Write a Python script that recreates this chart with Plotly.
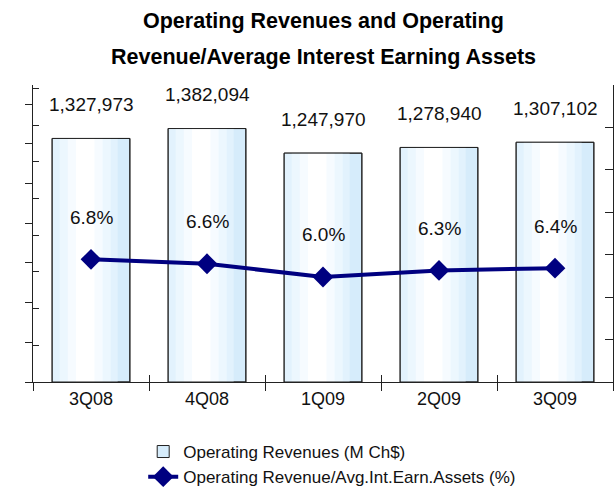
import plotly.graph_objects as go

quarters = ["3Q08", "4Q08", "1Q09", "2Q09", "3Q09"]
revenues = [1327973, 1382094, 1247970, 1278940, 1307102]
ratio = [6.8, 6.6, 6.0, 6.3, 6.4]
revenue_labels = ["1,327,973", "1,382,094", "1,247,970", "1,278,940", "1,307,102"]
ratio_labels = ["6.8%", "6.6%", "6.0%", "6.3%", "6.4%"]

font_name = "Liberation Sans, Arial"

fig = go.Figure()

# bars, with a few stacked layers to fake the horizontal gradient
fig.add_trace(go.Bar(x=quarters, y=revenues, name="Operating Revenues (M Ch$)",
                     width=0.67, marker=dict(color="#d6ecfb", line=dict(color="#222", width=1))))
for w, c in [(0.56, "#e2f2fd"), (0.44, "#ecf7fe"), (0.30, "#f6fbff"), (0.16, "#ffffff")]:
    fig.add_trace(go.Bar(x=quarters, y=revenues, width=w, offset=-w / 2 - 0.05,
                         marker=dict(color=c, line=dict(width=0)),
                         showlegend=False, hoverinfo="skip"))
fig.add_trace(go.Bar(x=quarters, y=revenues, width=0.67,
                     marker=dict(color="rgba(0,0,0,0)", line=dict(color="#222", width=1)),
                     showlegend=False, hoverinfo="skip"))

fig.add_trace(go.Scatter(x=quarters, y=ratio, yaxis="y2", mode="lines+markers",
                         name="Operating Revenue/Avg.Int.Earn.Assets (%)",
                         line=dict(color="#000080", width=4),
                         marker=dict(symbol="diamond", size=16, color="#000080")))

# invisible trace to carry the overlay axes that give crossing ticks
fig.add_trace(go.Scatter(x=quarters, y=revenues, xaxis="x3", yaxis="y3", mode="none",
                         showlegend=False, hoverinfo="skip"))

for q, v, t in zip(quarters, revenues, revenue_labels):
    fig.add_annotation(x=q, y=v, text=t, showarrow=False, yshift=34,
                       font=dict(family=font_name, size=19, color="#111"))
for q, v, t in zip(quarters, ratio, ratio_labels):
    fig.add_annotation(x=q, y=v, yref="y2", text=t, showarrow=False, yshift=42,
                       font=dict(family=font_name, size=19, color="#111"))

fig.add_annotation(x=0.5, y=1.0, xref="paper", yref="paper", yanchor="middle", yshift=64,
                   text="<b>Operating Revenues and Operating</b>", showarrow=False,
                   font=dict(family=font_name, size=21.5, color="#000"))
fig.add_annotation(x=0.5, y=1.0, xref="paper", yref="paper", yanchor="middle", yshift=28,
                   text="<b>Revenue/Average Interest Earning Assets</b>", showarrow=False,
                   font=dict(family=font_name, size=21.5, color="#000"))

fig.update_layout(
    width=616, height=487,
    margin=dict(l=33, r=3, t=85, b=105, autoexpand=False),
    paper_bgcolor="white", plot_bgcolor="white",
    barmode="overlay", bargap=0.33,
    font=dict(family=font_name, color="#111"),
    showlegend=True,
    legend=dict(x=0.19, y=-0.175, xanchor="left", yanchor="top",
                font=dict(family=font_name, size=17, color="#111"),
                bgcolor="rgba(0,0,0,0)", tracegroupgap=0),
    xaxis=dict(showline=True, linecolor="#222", linewidth=1, ticks="outside", ticklen=8,
               tickcolor="#222", tickson="boundaries", showgrid=False, automargin=False,
               tickfont=dict(family=font_name, size=18, color="#111")),
    yaxis=dict(range=[0, 1619500], dtick=216500, showline=True, linecolor="#222", linewidth=1,
               ticks="outside", ticklen=7, tickcolor="#222", showticklabels=False,
               showgrid=False, zeroline=False, automargin=False),
    yaxis2=dict(range=[1.23, 14.72], tick0=1.23, dtick=1.927, overlaying="y", side="right",
                showline=True, linecolor="#222", linewidth=1, ticks="inside", ticklen=8,
                tickcolor="#222", showticklabels=False, showgrid=False, zeroline=False,
                automargin=False),
    xaxis3=dict(overlaying="x", matches="x", anchor="y3", ticks="inside", ticklen=7,
                tickcolor="#222", tickson="boundaries", showticklabels=False,
                showline=False, showgrid=False, automargin=False),
    yaxis3=dict(overlaying="y", matches="y", anchor="x3", ticks="inside", ticklen=6,
                tickcolor="#222", showticklabels=False, showline=False, showgrid=False,
                zeroline=False, automargin=False),
)

# the page body has a default 8px margin; drop it so the chart sits at the corner
fig.write_html("out.html", config={"displayModeBar": False},
               post_script="document.body.style.margin='0';")
